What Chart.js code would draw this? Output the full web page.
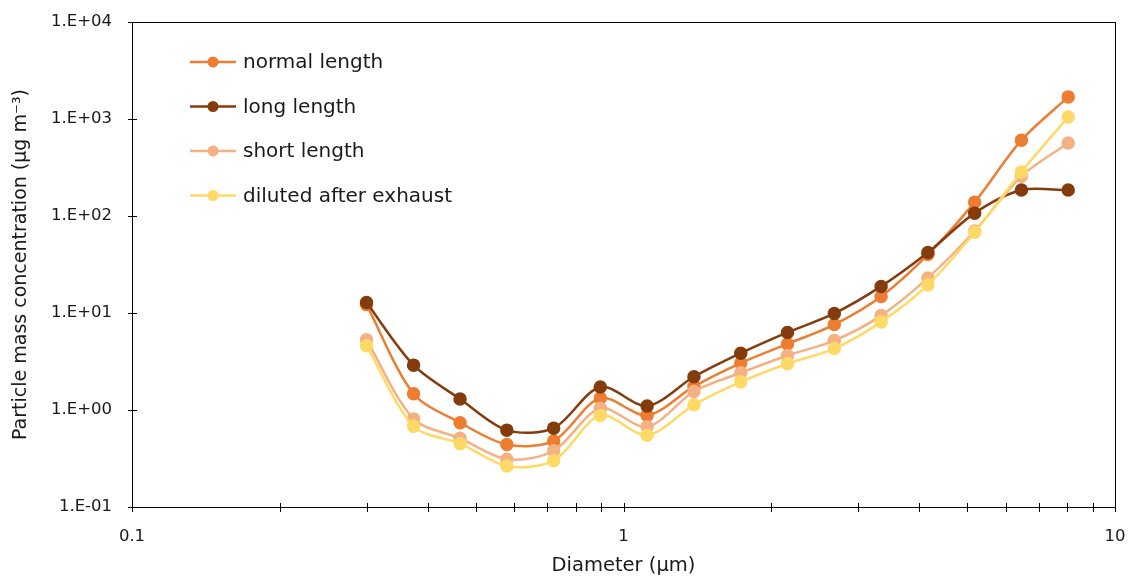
<!DOCTYPE html>
<html>
<head>
<meta charset="utf-8">
<script src="https://cdn.jsdelivr.net/npm/chart.js@4.4.1/dist/chart.umd.min.js"></script>
<style>
    html, body { margin: 0; padding: 0; background: #fff; }
    #caja { width: 1131px; height: 582px; }
</style>
</head>
<body>
<div id="caja"><canvas id="grafica" width="1131" height="582"></canvas></div>
<script>
"use strict";
// diametros del contador optico (um)
const diametros = [0.3, 0.374, 0.465, 0.579, 0.721, 0.897, 1.117, 1.391, 1.732, 2.156, 2.685, 3.343, 4.162, 5.182, 6.451, 8.032];
const normalLength = [12.2, 1.47, 0.74, 0.44, 0.48, 1.33, 0.88, 1.75, 3.05, 4.8, 7.6, 14.8, 40, 139, 605, 1690];
const longLength = [12.8, 2.9, 1.3, 0.62, 0.65, 1.73, 1.1, 2.2, 3.85, 6.3, 9.9, 18.8, 42, 107, 185, 185];
const shortLength = [5.3, 0.81, 0.51, 0.31, 0.38, 1.04, 0.67, 1.55, 2.42, 3.65, 5.2, 9.4, 23, 70, 257, 566];
const dilutedAfterExhaust = [4.6, 0.68, 0.45, 0.265, 0.30, 0.88, 0.55, 1.13, 1.95, 3.0, 4.3, 8.1, 19.5, 68, 285, 1050];

const series = ["normal length", "long length", "short length", "diluted after exhaust"];
const colores = ["#ED7D31", "#843C0C", "#F4B183", "#FFD966"];

const xLabels = [0.1, 1, 10];
const yLabels = [0.1, 1, 10, 100, 1000, 10000];

const fuente = "'DejaVu Sans', sans-serif";
const colorTexto = "#1a1a1a";

function esPotencia(v) {
    const l = Math.log10(v);
    return Math.abs(l - Math.round(l)) < 1e-6;
}

function formatoY(v) {
    const e = Math.round(Math.log10(v));
    const signo = e < 0 ? "-" : "+";
    return `1.E${signo}${String(Math.abs(e)).padStart(2, "0")}`;
}

// ticks menores del eje x (0.1 .. 10)
function ticksX() {
    const out = [];
    for (let d = 0; d < xLabels.length - 1; d++) {
        for (let k = 1; k < 10; k++) out.push({ value: xLabels[d] * k });
    }
    out.push({ value: xLabels[xLabels.length - 1] });
    return out;
}

const datos = [normalLength, longLength, shortLength, dilutedAfterExhaust];

const dataGrafica = {
    datasets: datos.map((serie, i) => ({
        label: series[i],
        data: serie.map((v, j) => ({ x: diametros[j], y: v })),
        borderColor: colores[i],
        backgroundColor: colores[i],
        pointBackgroundColor: colores[i],
        pointBorderColor: colores[i],
        pointRadius: 5.5,
        borderWidth: 2.5,
        tension: 0.3,
        order: datos.length - i,
    })),
};

/**
 * Marco, marcas cruzadas y leyenda dentro del area
 */
const marcoPlugin = {
    id: "marco",
    afterDraw(chart) {
        const { ctx, chartArea: a, scales } = chart;
        ctx.save();
        ctx.strokeStyle = "#000";
        ctx.lineWidth = 1;
        ctx.strokeRect(Math.round(a.left) + 0.5, Math.round(a.top) + 0.5,
            Math.round(a.right - a.left), Math.round(a.bottom - a.top));

        ctx.beginPath();
        scales.x.ticks.forEach((t) => {
            const px = Math.round(scales.x.getPixelForValue(t.value)) + 0.5;
            ctx.moveTo(px, a.bottom - 4);
            ctx.lineTo(px, a.bottom + 5);
        });
        scales.y.ticks.forEach((t) => {
            const py = Math.round(scales.y.getPixelForValue(t.value)) + 0.5;
            ctx.moveTo(a.left - 4, py);
            ctx.lineTo(a.left + 5, py);
        });
        ctx.stroke();

        // leyenda
        const x0 = 190, y0 = 62, paso = 44.5;
        ctx.font = `20px ${fuente}`;
        ctx.textBaseline = "middle";
        ctx.textAlign = "left";
        series.forEach((nombre, i) => {
            const y = y0 + i * paso;
            ctx.strokeStyle = colores[i];
            ctx.fillStyle = colores[i];
            ctx.lineWidth = 2.5;
            ctx.beginPath();
            ctx.moveTo(x0, y);
            ctx.lineTo(x0 + 46, y);
            ctx.stroke();
            ctx.beginPath();
            ctx.arc(x0 + 23, y, 5.5, 0, Math.PI * 2);
            ctx.fill();
            ctx.fillStyle = colorTexto;
            ctx.fillText(nombre, x0 + 53, y + 1);
        });
        ctx.restore();
    },
};

const grafica = new Chart(document.querySelector("#grafica"), {
    type: "line",
    data: dataGrafica,
    plugins: [marcoPlugin],
    options: {
        responsive: false,
        animation: false,
        layout: { padding: { top: 22, right: 16, left: 0, bottom: 0 } },
        plugins: {
            legend: { display: false },
            tooltip: { enabled: false },
        },
        scales: {
            x: {
                type: "logarithmic",
                min: 0.1,
                max: 10,
                grid: { display: false },
                border: { display: false },
                afterBuildTicks: (scale) => { scale.ticks = ticksX(); },
                afterFit: (scale) => {
                    scale.height = 75;
                    scale.paddingLeft = 0;
                    scale.paddingRight = 0;
                },
                ticks: {
                    autoSkip: false,
                    maxRotation: 0,
                    padding: 12,
                    color: colorTexto,
                    font: { family: fuente, size: 16.5 },
                    callback: (v) => (xLabels.some((l) => Math.abs(l - v) < 1e-9) ? String(v) : ""),
                },
                title: {
                    display: true,
                    text: "Diameter (µm)",
                    color: colorTexto,
                    font: { family: fuente, size: 19.5 },
                    padding: { top: 0, bottom: 4 },
                },
            },
            y: {
                type: "logarithmic",
                min: 0.1,
                max: 10000,
                grid: { display: false },
                border: { display: false },
                afterBuildTicks: (scale) => { scale.ticks = yLabels.map((v) => ({ value: v })); },
                afterFit: (scale) => {
                    scale.width = 132;
                    scale.paddingTop = 0;
                    scale.paddingBottom = 0;
                },
                ticks: {
                    padding: 12,
                    color: colorTexto,
                    font: { family: fuente, size: 16.5 },
                    callback: (v) => (esPotencia(v) ? formatoY(v) : ""),
                },
                title: {
                    display: true,
                    text: "Particle mass concentration (µg m⁻³)",
                    color: colorTexto,
                    font: { family: fuente, size: 19 },
                    padding: { top: 10, bottom: 0 },
                },
            },
        },
    },
});
</script>
</body>
</html>
